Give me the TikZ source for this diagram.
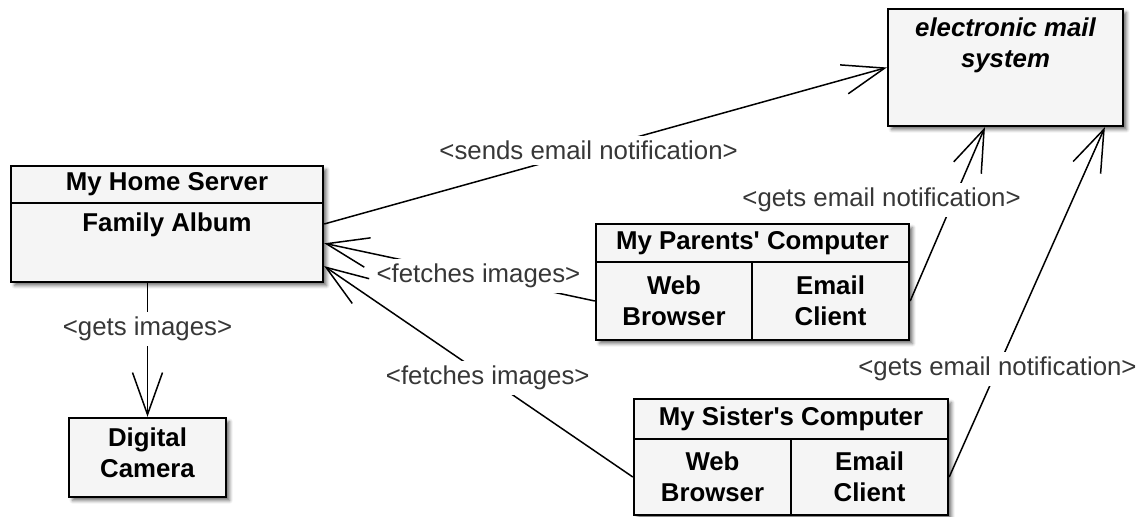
\documentclass[tikz,border=0pt]{standalone}
\usepackage{fontspec}
\setmainfont{Liberation Sans}
\usetikzlibrary{arrows.meta,shadows.blur}

\definecolor{boxfill}{RGB}{245,245,245}
\definecolor{labelgray}{RGB}{55,55,55}
\newcommand{\diagfont}{\fontsize{12.9}{15.5}\selectfont}

\tikzset{
  unitbox/.style={draw, line width=1.2pt, fill=boxfill, inner sep=0pt, align=center,
    font=\diagfont\bfseries,
    blur shadow={shadow xshift=1.8pt, shadow yshift=-1.8pt, shadow blur radius=1.6pt, shadow opacity=55}},
  cell/.style={draw, line width=1.2pt, fill=boxfill, inner sep=0pt, align=center, font=\diagfont\bfseries},
  tag/.style={fill=white, inner sep=2.5pt, text=labelgray, font=\diagfont},
  link/.style={line width=0.75pt, -{Straight Barb[length=21pt,width=15pt]}}
}

\begin{document}
\begin{tikzpicture}[x=0.5pt, y=-0.5pt]
\useasboundingbox (0,0) rectangle (1141,517);

% home server
\node[unitbox, minimum width=156pt, minimum height=58pt] (server) at (167,224) {};
\node[cell, minimum width=156pt, minimum height=18.5pt] (serverhead) at (167,184.5) {My Home Server};
\node[anchor=base, font=\diagfont\bfseries] (album) at (167,232) {Family Album};

% camera
\node[unitbox, minimum width=78.5pt, minimum height=39.5pt] (camera) at (147.5,457.5) {};
\node[align=center, font=\diagfont\bfseries] (cameratext) at (147.5,453) {Digital\\Camera};

% mail system
\node[unitbox, minimum width=117.5pt, minimum height=58.5pt] (mail) at (1005.5,67.5) {};
\node[align=center, font=\diagfont\bfseries\itshape] (mailtext) at (1005.5,45) {electronic mail\\system};

% parents' computer
\node[unitbox, minimum width=156.5pt, minimum height=58pt] (parents) at (752.5,282) {};
\node[cell, minimum width=156.5pt, minimum height=19pt] (parentshead) at (752.5,243) {My Parents\textquotesingle{} Computer};
\node[cell, minimum width=78pt, minimum height=39pt] (parentsweb) at (674,301) {Web\\Browser};
\node[cell, minimum width=78.5pt, minimum height=39pt] (parentsmail) at (830.5,301) {Email\\Client};

% sister's computer
\node[unitbox, minimum width=157pt, minimum height=58pt] (sister) at (791,457) {};
\node[cell, minimum width=157pt, minimum height=20pt] (sisterhead) at (791,419) {My Sister\textquotesingle{}s Computer};
\node[cell, minimum width=78.5pt, minimum height=38pt] (sisterweb) at (712.5,477) {Web\\Browser};
\node[cell, minimum width=78.5pt, minimum height=38pt] (sistermail) at (869.5,477) {Email\\Client};

% connectors
\draw[link] (server.east) -- (mail.west) node[tag, pos=0.47] {<sends email notification>};
\draw[link] (parentsweb.west) -- (server.-7) node[tag, pos=0.43] {<fetches images>};
\draw[link] (sisterweb.west) -- (server.-15) node[tag, pos=0.47] {<fetches images>};
\draw[link] (camera.north |- server.south) -- (camera.north) node[tag, pos=0.34] {<gets images>};
\draw[link] (parentsmail.east) -- (mail.-109) node[tag, pos=0.58, xshift=-36pt] {<gets email notification>};
\draw[link] (sistermail.east) -- (mail.-31) node[tag, pos=0.31] {<gets email notification>};
\end{tikzpicture}
\end{document}
